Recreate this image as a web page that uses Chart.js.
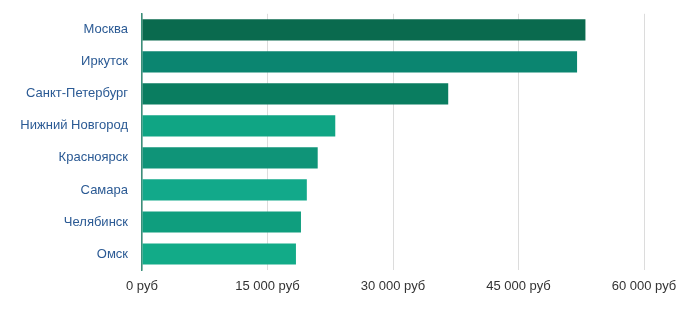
<!DOCTYPE html>
<html>
<head>
<meta charset="utf-8">
<script src="https://cdn.jsdelivr.net/npm/chart.js@4"></script>
<style>
  html, body { margin: 0; padding: 0; background: #fff; }
  #wrap { width: 700px; height: 326px; }
</style>
</head>
<body>
<div id="wrap"><canvas id="salary"></canvas></div>
<script>
// города и зарплаты (руб)
const cities = ['Москва', 'Иркутск', 'Санкт-Петербург', 'Нижний Новгород', 'Красноярск', 'Самара', 'Челябинск', 'Омск'];
const salaries = [53000, 52000, 36600, 23100, 21000, 19700, 19000, 18400];
const barColors = ['#0a6a4e', '#0b8570', '#0a7d60', '#10a584', '#0f9478', '#12a98a', '#0f9e7e', '#12ab88'];
const xTicks = [0, 15000, 30000, 45000, 60000];

const fmt = v => String(v).replace(/\B(?=(\d{3})+(?!\d))/g, ' ') + ' руб';

new Chart(document.getElementById('salary'), {
    type: 'bar',
    data: {
        labels: cities,
        datasets: [{
            data: salaries,
            backgroundColor: barColors,
            borderWidth: 0,
            categoryPercentage: 1,
            barPercentage: 0.66
        }]
    },
    options: {
        indexAxis: 'y',
        responsive: true,
        maintainAspectRatio: false,
        animation: false,
        layout: { padding: { top: 9, right: 56, bottom: 0, left: 0 } },
        plugins: {
            legend: { display: false },
            tooltip: { enabled: false }
        },
        scales: {
            x: {
                min: 0,
                max: 60000,
                afterBuildTicks: scale => { scale.ticks = xTicks.map(v => ({ value: v })); },
                afterFit: scale => { scale.height = 56; },
                grid: { color: '#dcdcdc', lineWidth: 1, drawTicks: false },
                border: { display: false },
                ticks: {
                    padding: 9,
                    color: '#333',
                    font: { family: 'Liberation Sans', size: 13 },
                    callback: value => fmt(value)
                }
            },
            y: {
                afterFit: scale => { scale.width = 142; },
                grid: { display: false },
                border: { display: true, color: '#3a8f7a', width: 1.5 },
                ticks: {
                    padding: 6,
                    color: '#2b5a94',
                    font: { family: 'Liberation Sans', size: 13 }
                }
            }
        }
    }
});
</script>
</body>
</html>
